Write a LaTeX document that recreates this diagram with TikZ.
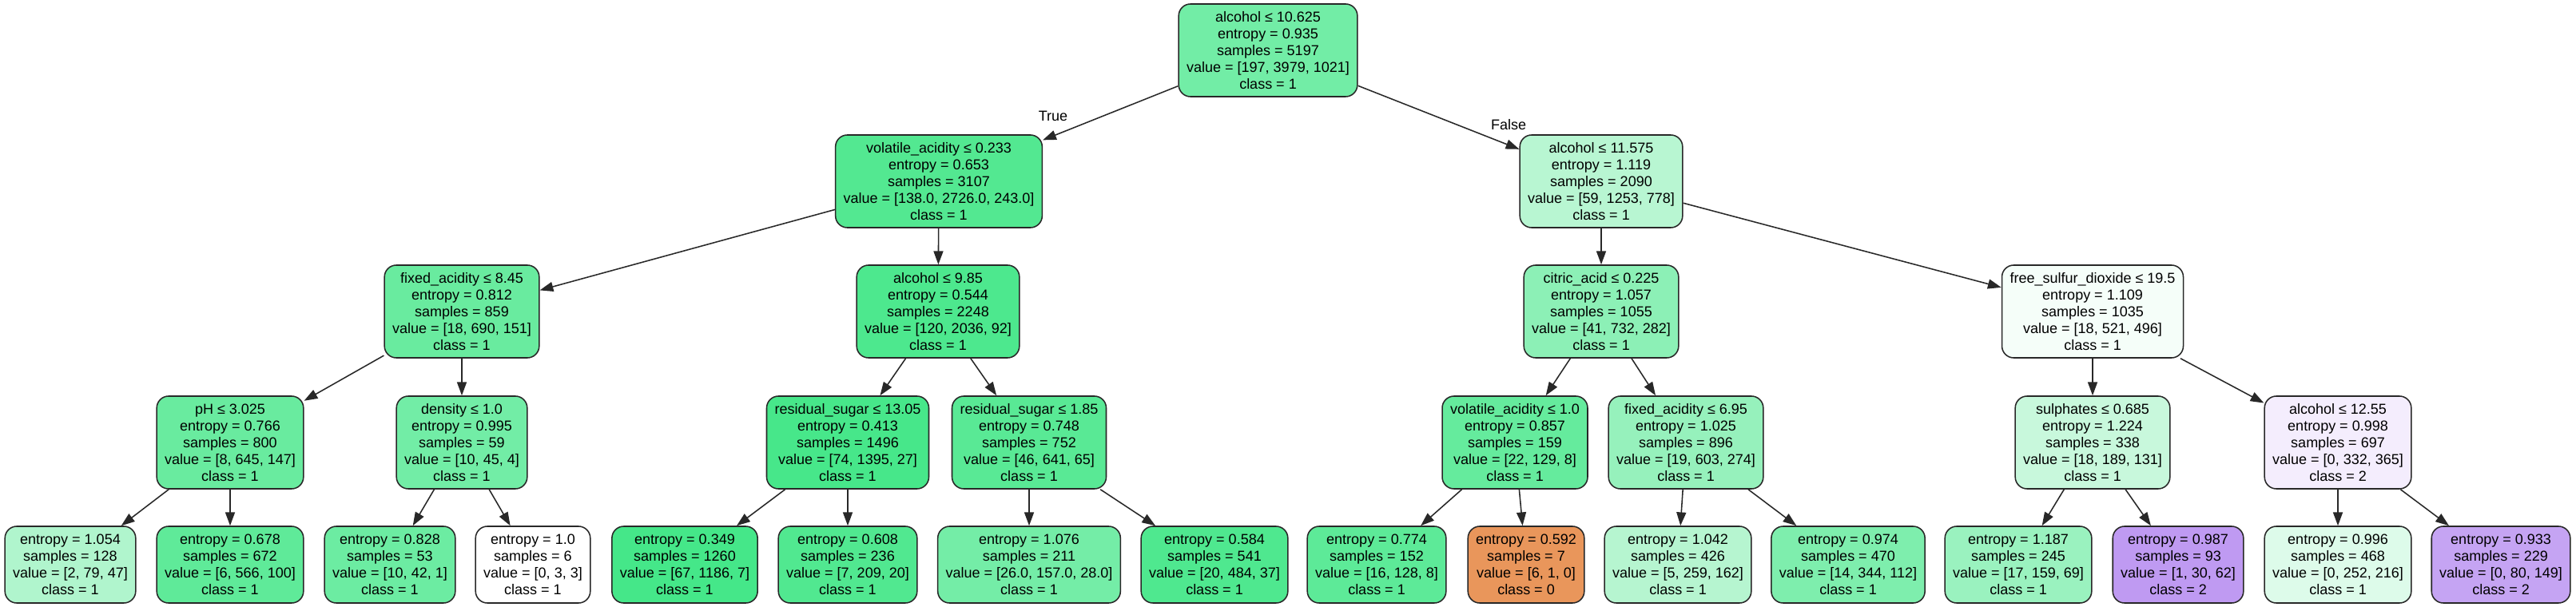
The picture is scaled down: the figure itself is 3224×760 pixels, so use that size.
\documentclass[tikz,border=0pt]{standalone}
\usepackage{fontspec}
\setmainfont{Liberation Sans}
\usetikzlibrary{arrows.meta}
\definecolor{cZero}{RGB}{229,129,57}
\definecolor{cOne}{RGB}{57,229,129}
\definecolor{cTwo}{RGB}{129,57,229}
\definecolor{cLine}{RGB}{40,40,40}

\begin{document}
\begin{tikzpicture}[x=0.025cm, y=-0.025cm,
    splitbox/.style={draw=cLine, rounded corners=0.37cm, line width=1.1pt, align=center,
        inner xsep=0.25cm, minimum height=2.9cm,
        font=\fontsize{12.8pt}{14.94pt}\selectfont},
    leafbox/.style={splitbox, minimum height=2.4cm},
    link/.style={-{Triangle[length=0.42cm, width=0.3cm]}, line width=1.1pt, draw=cLine},
    lbl/.style={font=\fontsize{12.8pt}{14.94pt}\selectfont}]
    \useasboundingbox (0,0) rectangle (3224,760);

    % Root
    \node[splitbox, fill=cOne!71!white] (root) at (1587,63)
        {alcohol ≤ 10.625\\entropy = 0.935\\samples = 5197\\value = [197, 3979, 1021]\\class = 1};

    % Level 1
    \node[splitbox, fill=cOne!87!white] (volA) at (1175,227)
        {volatile\_acidity ≤ 0.233\\entropy = 0.653\\samples = 3107\\value = [138.0, 2726.0, 243.0]\\class = 1};
    \node[splitbox, fill=cOne!36!white] (alcB) at (2004,227)
        {alcohol ≤ 11.575\\entropy = 1.119\\samples = 2090\\value = [59, 1253, 778]\\class = 1};

    % Level 2
    \node[splitbox, fill=cOne!76!white] (fixA) at (578,390)
        {fixed\_acidity ≤ 8.45\\entropy = 0.812\\samples = 859\\value = [18, 690, 151]\\class = 1};
    \node[splitbox, fill=cOne!90!white] (alcC) at (1174,390)
        {alcohol ≤ 9.85\\entropy = 0.544\\samples = 2248\\value = [120, 2036, 92]\\class = 1};
    \node[splitbox, fill=cOne!58!white] (cit) at (2004,390)
        {citric\_acid ≤ 0.225\\entropy = 1.057\\samples = 1055\\value = [41, 732, 282]\\class = 1};
    \node[splitbox, fill=cOne!5!white] (fsd) at (2619,390)
        {free\_sulfur\_dioxide ≤ 19.5\\entropy = 1.109\\samples = 1035\\value = [18, 521, 496]\\class = 1};

    % Level 3
    \node[splitbox, fill=cOne!76!white] (ph) at (288,554)
        {pH ≤ 3.025\\entropy = 0.766\\samples = 800\\value = [8, 645, 147]\\class = 1};
    \node[splitbox, fill=cOne!71!white] (dens) at (578,554)
        {density ≤ 1.0\\entropy = 0.995\\samples = 59\\value = [10, 45, 4]\\class = 1};
    \node[splitbox, fill=cOne!93!white] (rsA) at (1061,554)
        {residual\_sugar ≤ 13.05\\entropy = 0.413\\samples = 1496\\value = [74, 1395, 27]\\class = 1};
    \node[splitbox, fill=cOne!84!white] (rsB) at (1288,554)
        {residual\_sugar ≤ 1.85\\entropy = 0.748\\samples = 752\\value = [46, 641, 65]\\class = 1};
    \node[splitbox, fill=cOne!78!white] (volB) at (1896,554)
        {volatile\_acidity ≤ 1.0\\entropy = 0.857\\samples = 159\\value = [22, 129, 8]\\class = 1};
    \node[splitbox, fill=cOne!53!white] (fixB) at (2110,554)
        {fixed\_acidity ≤ 6.95\\entropy = 1.025\\samples = 896\\value = [19, 603, 274]\\class = 1};
    \node[splitbox, fill=cOne!28!white] (sul) at (2619,554)
        {sulphates ≤ 0.685\\entropy = 1.224\\samples = 338\\value = [18, 189, 131]\\class = 1};
    \node[splitbox, fill=cTwo!9!white] (alcD) at (2926,554)
        {alcohol ≤ 12.55\\entropy = 0.998\\samples = 697\\value = [0, 332, 365]\\class = 2};

    % Leaves
    \node[leafbox, fill=cOne!40!white] (lfA) at (88,707)
        {entropy = 1.054\\samples = 128\\value = [2, 79, 47]\\class = 1};
    \node[leafbox, fill=cOne!81!white] (lfB) at (288,707)
        {entropy = 0.678\\samples = 672\\value = [6, 566, 100]\\class = 1};
    \node[leafbox, fill=cOne!74!white] (lfC) at (488,707)
        {entropy = 0.828\\samples = 53\\value = [10, 42, 1]\\class = 1};
    \node[leafbox, fill=white] (lfD) at (667,707)
        {entropy = 1.0\\samples = 6\\value = [0, 3, 3]\\class = 1};
    \node[leafbox, fill=cOne!94!white] (lfE) at (857,707)
        {entropy = 0.349\\samples = 1260\\value = [67, 1186, 7]\\class = 1};
    \node[leafbox, fill=cOne!88!white] (lfF) at (1061,707)
        {entropy = 0.608\\samples = 236\\value = [7, 209, 20]\\class = 1};
    \node[leafbox, fill=cOne!70!white] (lfG) at (1288,707)
        {entropy = 1.076\\samples = 211\\value = [26.0, 157.0, 28.0]\\class = 1};
    \node[leafbox, fill=cOne!89!white] (lfH) at (1520,707)
        {entropy = 0.584\\samples = 541\\value = [20, 484, 37]\\class = 1};
    \node[leafbox, fill=cOne!82!white] (lfI) at (1723,707)
        {entropy = 0.774\\samples = 152\\value = [16, 128, 8]\\class = 1};
    \node[leafbox, fill=cZero!83!white] (lfJ) at (1910,707)
        {entropy = 0.592\\samples = 7\\value = [6, 1, 0]\\class = 0};
    \node[leafbox, fill=cOne!37!white] (lfK) at (2100,707)
        {entropy = 1.042\\samples = 426\\value = [5, 259, 162]\\class = 1};
    \node[leafbox, fill=cOne!65!white] (lfL) at (2313,707)
        {entropy = 0.974\\samples = 470\\value = [14, 344, 112]\\class = 1};
    \node[leafbox, fill=cOne!51!white] (lfM) at (2526,707)
        {entropy = 1.187\\samples = 245\\value = [17, 159, 69]\\class = 1};
    \node[leafbox, fill=cTwo!51!white] (lfN) at (2726,707)
        {entropy = 0.987\\samples = 93\\value = [1, 30, 62]\\class = 2};
    \node[leafbox, fill=cOne!17!white] (lfO) at (2926,707)
        {entropy = 0.996\\samples = 468\\value = [0, 252, 216]\\class = 1};
    \node[leafbox, fill=cTwo!46!white] (lfP) at (3130,707)
        {entropy = 0.933\\samples = 229\\value = [0, 80, 149]\\class = 2};

    % Branch labels
    \node[lbl] (lblTrue) at (1318,145) {True};
    \node[lbl] (lblFalse) at (1888,156) {False};

    % Edges
    \draw[link] (root) -- (volA);
    \draw[link] (root) -- (alcB);
    \draw[link] (volA) -- (fixA);
    \draw[link] (volA) -- (alcC);
    \draw[link] (alcB) -- (cit);
    \draw[link] (alcB) -- (fsd);
    \draw[link] (fixA) -- (ph);
    \draw[link] (fixA) -- (dens);
    \draw[link] (alcC) -- (rsA);
    \draw[link] (alcC) -- (rsB);
    \draw[link] (cit) -- (volB);
    \draw[link] (cit) -- (fixB);
    \draw[link] (fsd) -- (sul);
    \draw[link] (fsd) -- (alcD);
    \draw[link] (ph) -- (lfA);
    \draw[link] (ph) -- (lfB);
    \draw[link] (dens) -- (lfC);
    \draw[link] (dens) -- (lfD);
    \draw[link] (rsA) -- (lfE);
    \draw[link] (rsA) -- (lfF);
    \draw[link] (rsB) -- (lfG);
    \draw[link] (rsB) -- (lfH);
    \draw[link] (volB) -- (lfI);
    \draw[link] (volB) -- (lfJ);
    \draw[link] (fixB) -- (lfK);
    \draw[link] (fixB) -- (lfL);
    \draw[link] (sul) -- (lfM);
    \draw[link] (sul) -- (lfN);
    \draw[link] (alcD) -- (lfO);
    \draw[link] (alcD) -- (lfP);
\end{tikzpicture}
\end{document}
